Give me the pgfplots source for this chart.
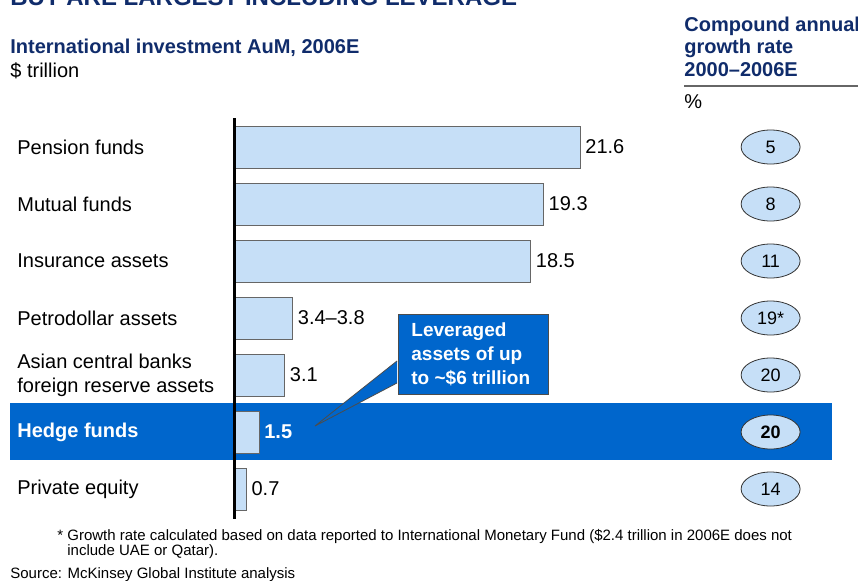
\documentclass[border=0pt]{standalone}
\usepackage{pgfplots}
\pgfplotsset{compat=1.18}
\usepackage{fontspec}
\setmainfont{Liberation Sans}
\usetikzlibrary{shapes.geometric}

\definecolor{navy}{HTML}{102C6B}
\definecolor{band}{HTML}{0066CC}
\definecolor{barfill}{HTML}{C6DFF7}

\begin{document}
\begin{tikzpicture}
\useasboundingbox (0,0) rectangle (429pt,-290.5pt);
\clip (0,0) rectangle (429pt,-290.5pt);

\begin{axis}[
    at={(117.5pt,-259.5pt)}, anchor=south west,
    scale only axis, width=311.5pt, height=200.5pt,
    xmin=0, xmax=39, ymin=-0.526, ymax=6.509,
    clip=false, axis on top,
    axis line style={draw=none}, tick style={draw=none},
    xtick=\empty,
    ytick={0,1,2,3,4,5,6},
    yticklabels={Private equity, \textbf{\textcolor{white}{Hedge funds}},
        {Asian central banks\\foreign reserve assets}, Petrodollar assets,
        Insurance assets, Mutual funds, Pension funds},
    yticklabel style={font=\fontsize{10}{12}\selectfont, anchor=west,
        align=left, inner sep=0pt, xshift=-109pt},
]
% highlighted row
\fill[band] (axis cs:-14.09,0.509) rectangle (axis cs:37.38,1.509);

% AuM bars
\addplot[xbar, bar width=21pt, bar shift=0pt, fill=barfill, draw=black!60,
    point meta=explicit symbolic, nodes near coords,
    nodes near coords style={font=\fontsize{10}{12}\selectfont, text=black,
        anchor=west, inner sep=2.5pt}]
    coordinates {(21.6,6) [21.6] (19.3,5) [19.3] (18.5,4) [18.5]
                 (3.6,3) [3.4–3.8] (3.1,2) [3.1] (0.7,0) [0.7]};
\addplot[xbar, bar width=21pt, bar shift=0pt, fill=barfill, draw=black!60,
    point meta=explicit symbolic, nodes near coords,
    nodes near coords style={font=\bfseries\fontsize{10}{12}\selectfont, text=white,
        anchor=west, inner sep=2.5pt}]
    coordinates {(1.5,1) [1.5]};

% growth rates
\addplot[draw=none, point meta=explicit symbolic, nodes near coords,
    nodes near coords style={ellipse, draw=black!80, fill=barfill,
        minimum width=29.5pt, minimum height=17pt, inner sep=0pt,
        anchor=center, text=black, font=\fontsize{9}{10}\selectfont}]
    coordinates {(33.53,6) [5] (33.53,5) [8] (33.53,4) [11]
                 (33.53,3) [19*] (33.53,2) [20] (33.53,0) [14]};
\addplot[draw=none, point meta=explicit symbolic, nodes near coords,
    nodes near coords style={ellipse, draw=black!80, fill=barfill,
        minimum width=29.5pt, minimum height=17pt, inner sep=0pt,
        anchor=center, text=black, font=\bfseries\fontsize{9}{10}\selectfont}]
    coordinates {(33.53,1) [20]};

\draw[line width=1.5pt] (axis cs:0,-0.526) -- (axis cs:0,6.509);
\end{axis}

\begin{scope}[x=0.5pt, y=-0.5pt]
  \node[anchor=base west, inner sep=0, text=navy, font=\bfseries\fontsize{12}{14}\selectfont]
    at (10,6) {BUT ARE LARGEST INCLUDING LEVERAGE};
  \node[anchor=base west, inner sep=0, text=navy, font=\bfseries\fontsize{10}{12}\selectfont]
    at (10,54) {International investment AuM, 2006E};
  \node[anchor=base west, inner sep=0, font=\fontsize{10}{12}\selectfont]
    at (10,78) {\$ trillion};

  \node[anchor=base west, inner sep=0, text=navy, font=\bfseries\fontsize{10}{12}\selectfont]
    at (684,32) {Compound annual};
  \node[anchor=base west, inner sep=0, text=navy, font=\bfseries\fontsize{10}{12}\selectfont]
    at (684,54) {growth rate};
  \node[anchor=base west, inner sep=0, text=navy, font=\bfseries\fontsize{10}{12}\selectfont]
    at (684,77) {2000–2006E};
  \draw[black!60, line width=0.6pt] (684,86) -- (858,86);
  \node[anchor=base west, inner sep=0, font=\fontsize{10}{12}\selectfont]
    at (684,109) {\%};

  % callout
  \draw[fill=band, draw=black!70, line width=0.4pt] (397,361) -- (315,426) -- (397,383);
  \draw[fill=band, draw=black!70, line width=0.4pt] (398,314) rectangle (548,394);
  \node[anchor=base west, inner sep=0, text=white, font=\bfseries\fontsize{9.5}{11}\selectfont]
    at (411,337) {Leveraged};
  \node[anchor=base west, inner sep=0, text=white, font=\bfseries\fontsize{9.5}{11}\selectfont]
    at (411,361) {assets of up};
  \node[anchor=base west, inner sep=0, text=white, font=\bfseries\fontsize{9.5}{11}\selectfont]
    at (411,385) {to \textasciitilde\$6 trillion};

  % footnotes
  \node[anchor=base west, inner sep=0, font=\fontsize{7.5}{9}\selectfont]
    at (57,541) {* Growth rate calculated based on data reported to International Monetary Fund (\$2.4 trillion in 2006E does not};
  \node[anchor=base west, inner sep=0, font=\fontsize{7.5}{9}\selectfont]
    at (67,556) {include UAE or Qatar).};
  \node[anchor=base west, inner sep=0, font=\fontsize{7.5}{9}\selectfont]
    at (10,579) {Source: McKinsey Global Institute analysis};
\end{scope}
\end{tikzpicture}
\end{document}
